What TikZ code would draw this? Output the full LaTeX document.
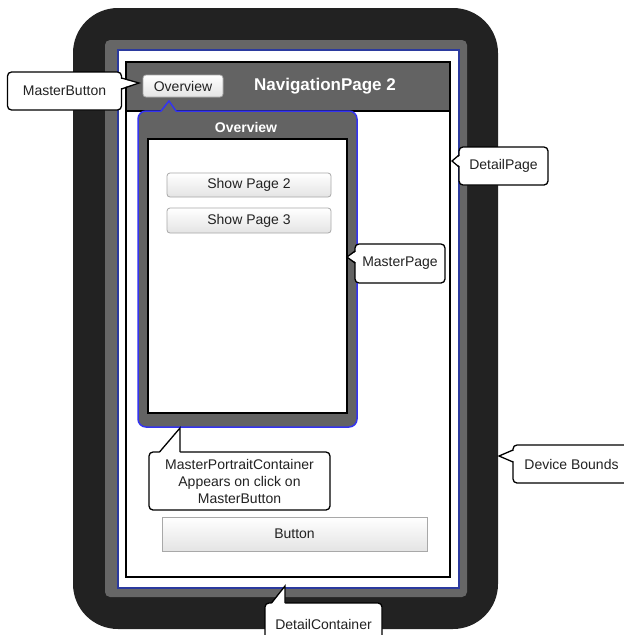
\documentclass[tikz,border=0pt]{standalone}
\usepackage{fontspec}
\setmainfont{Liberation Sans}
\definecolor{devblack}{HTML}{222222}
\definecolor{devgray}{HTML}{666666}
\definecolor{navgray}{HTML}{636363}
\definecolor{contblue}{HTML}{2B3A9E}
\definecolor{popblue}{HTML}{3434F0}
\definecolor{txt}{HTML}{222222}
\definecolor{btnborder}{HTML}{A8A8A8}
\definecolor{btnbot}{HTML}{E4E4E4}
\tikzset{
  callout/.style={draw=black, line width=1.3pt, fill=white, rounded corners=4pt,
    font=\fontsize{14}{17}\selectfont, text=txt, align=center, inner sep=0pt},
  ptrfill/.style={fill=white},
  ptr/.style={draw=black, line width=1.3pt},
  uibtn/.style={draw=btnborder, line width=0.8pt, top color=white, bottom color=btnbot,
    font=\fontsize{14}{17}\selectfont, text=txt, inner sep=0pt},
  boldtitle/.style={font=\fontsize{#1}{#1}\selectfont\bfseries, text=white, inner sep=0pt}
}
\begin{document}
\begin{tikzpicture}[x=1pt,y=-1pt]
\useasboundingbox (0,0) rectangle (624,635);
\clip (0,0) rectangle (624,635);
% device
\fill[devblack, rounded corners=45pt] (73,8) rectangle (498,629);
\fill[devgray, rounded corners=5pt] (105,40) rectangle (467,597);
\draw[contblue, line width=1.2pt, fill=white] (118,50) rectangle (459,588);
% detail page
\draw[black, line width=1.3pt, fill=white] (126,62) rectangle (450,577);
\draw[black, line width=1.3pt, fill=navgray] (126,62) rectangle (450,111);
\node[boldtitle=17] (navtitle) at (325,86) {NavigationPage 2};
\node[uibtn, rounded corners=3pt, minimum width=80pt, minimum height=22pt] (ovbtn) at (183,86) {Overview};
% master popover
\draw[popblue, line width=1.5pt, fill=navgray, rounded corners=8pt] (138,111) rectangle (357,427);
\fill[navgray] (160.5,113) -- (169,101) -- (176.5,113) -- cycle;
\draw[popblue, line width=1.5pt] (161,111) -- (169,101) -- (176,111);
\node[boldtitle=14] (poptitle) at (246,127) {Overview};
\draw[black, line width=1.3pt, fill=white] (148,139) rectangle (347,413);
\node[uibtn, rounded corners=3pt, minimum width=164pt, minimum height=24pt] (sp2) at (249,185) {Show Page 2};
\node[uibtn, rounded corners=3pt, minimum width=164pt, minimum height=25pt] (sp3) at (249,220.5) {Show Page 3};
% detail button
\node[uibtn, minimum width=265pt, minimum height=34pt] (btn) at (294.5,534) {Button};
% callouts
\node[callout, minimum width=114pt, minimum height=38pt] (mb) at (64.5,91) {MasterButton};
\coordinate (mbtip) at (139,83);
\fill[ptrfill] (119.5,78.5) -- (mbtip) -- (119.5,88.5) -- cycle;
\draw[ptr] (121.5,78) -- (mbtip) -- (121.5,89);

\node[callout, minimum width=89pt, minimum height=38pt] (dp) at (503.5,166) {DetailPage};
\coordinate (dptip) at (452,161);
\fill[ptrfill] (460.5,155.5) -- (dptip) -- (460.5,166.5) -- cycle;
\draw[ptr] (459,155) -- (dptip) -- (459,167);

\node[callout, minimum width=90pt, minimum height=39pt] (mp) at (400,263.5) {MasterPage};
\coordinate (mptip) at (347,257);
\fill[ptrfill] (356.5,251.5) -- (mptip) -- (356.5,262.5) -- cycle;
\draw[ptr] (355,251) -- (mptip) -- (355,263);

\node[callout, minimum width=117pt, minimum height=38pt] (db) at (571.5,464) {Device Bounds};
\coordinate (dbtip) at (499,456);
\fill[ptrfill] (514.5,450.5) -- (dbtip) -- (514.5,461.5) -- cycle;
\draw[ptr] (513,450) -- (dbtip) -- (513,462);

\node[callout, minimum width=181pt, minimum height=58pt] (mpc) at (239.5,481)
  {MasterPortraitContainer\\Appears on click on\\MasterButton};
\coordinate (mpctip) at (180,428);
\fill[ptrfill] (159,453.5) -- (mpctip) -- (180,453.5) -- cycle;
\draw[ptr] (159.5,452) -- (mpctip) -- (180,452);

\node[callout, minimum width=117pt, minimum height=42pt] (dc) at (323.5,624) {DetailContainer};
\coordinate (dctip) at (285,586);
\fill[ptrfill] (271,604.5) -- (dctip) -- (285,604.5) -- cycle;
\draw[ptr] (271.5,603) -- (dctip) -- (285,603);
\end{tikzpicture}
\end{document}
